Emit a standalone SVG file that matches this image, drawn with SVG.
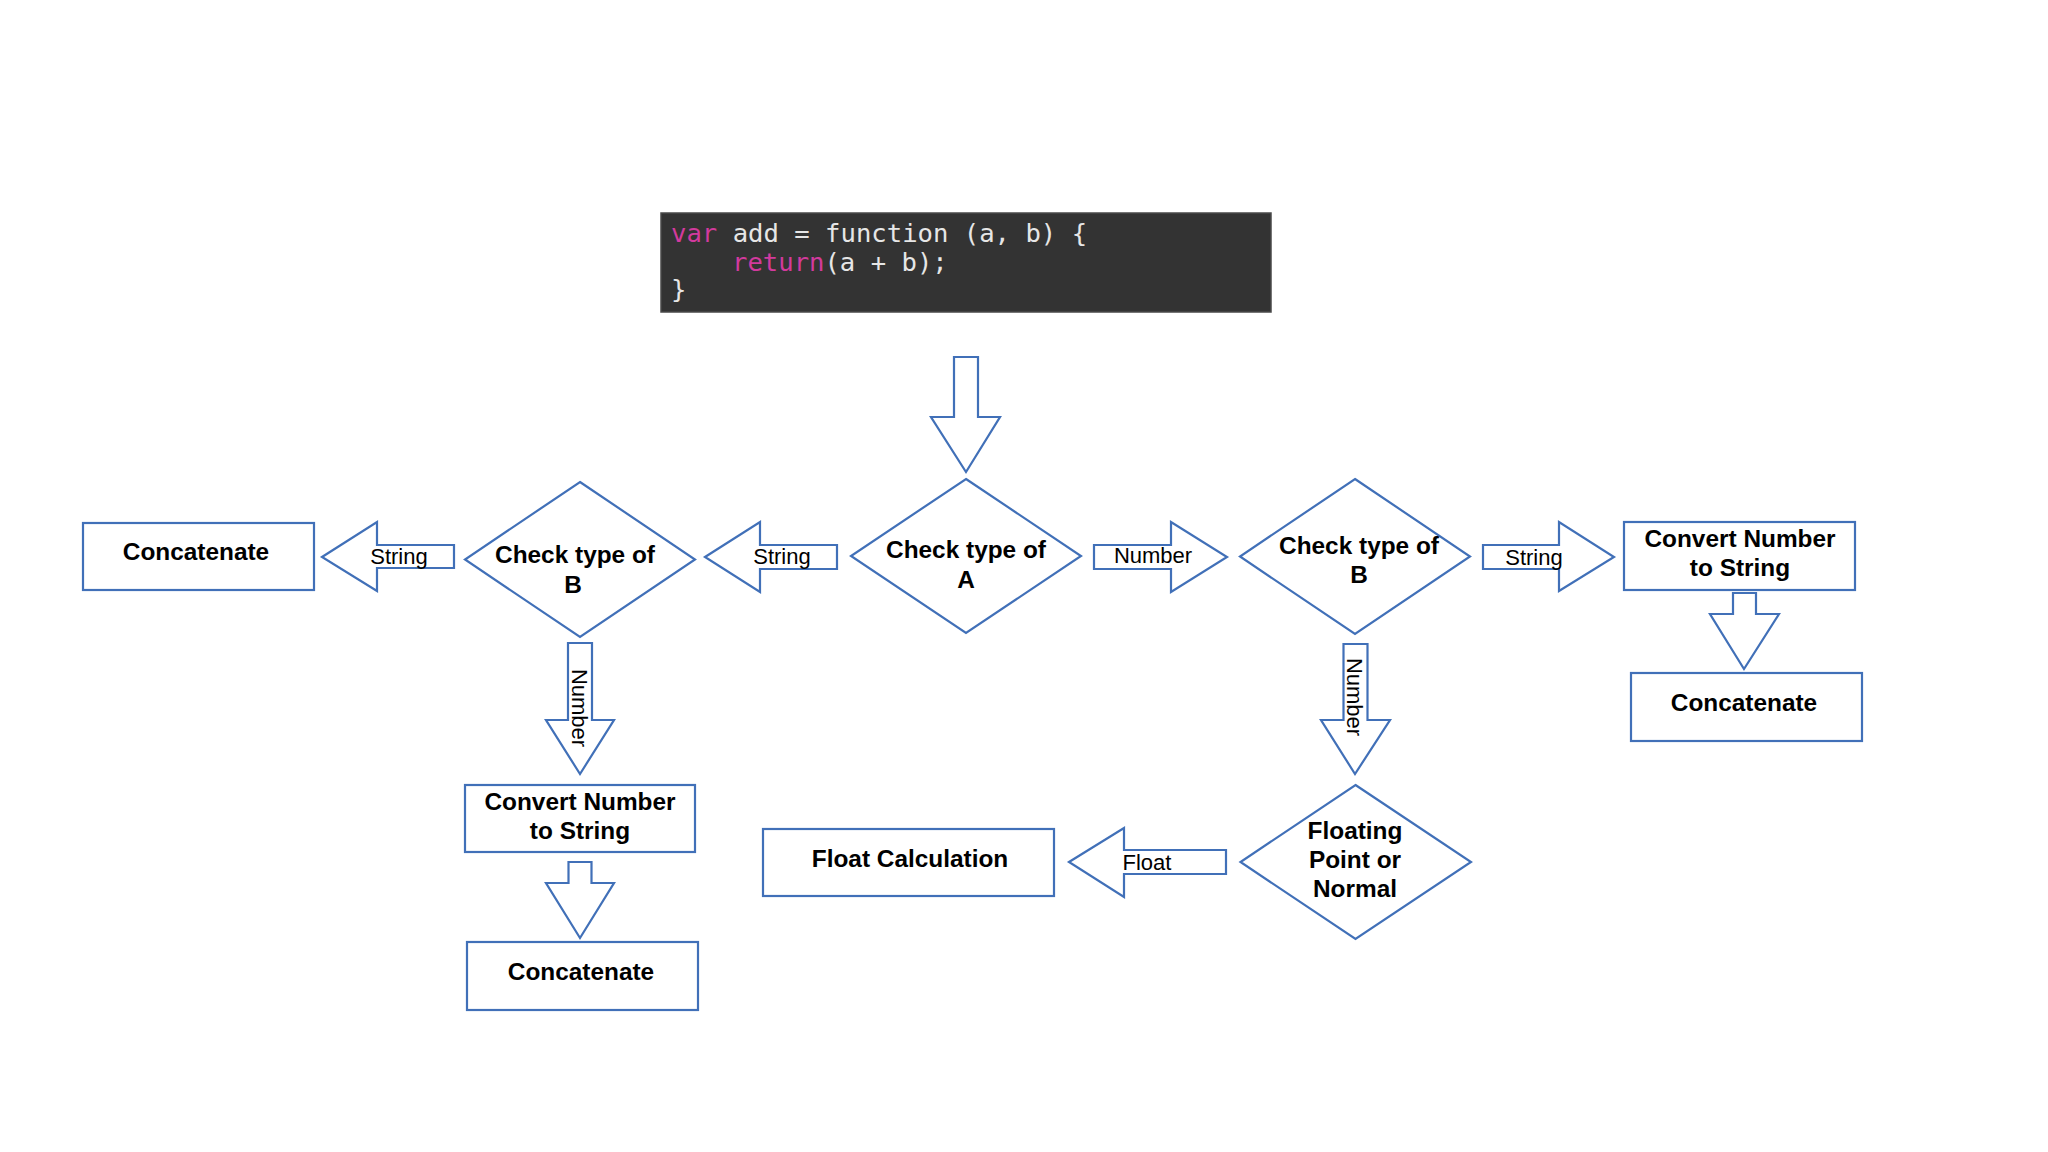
<svg xmlns="http://www.w3.org/2000/svg" width="2048" height="1152" viewBox="0 0 2048 1152">
<style>
.shape{fill:#ffffff;stroke:#4170b8;stroke-width:2.2;stroke-linejoin:miter}
.nt{font-family:"Liberation Sans",Arial,sans-serif;font-weight:bold;font-size:24.4px;fill:#000;text-anchor:middle}
.lb{font-family:"Liberation Sans",Arial,sans-serif;font-size:22px;fill:#000;text-anchor:middle}
.code{font-family:"DejaVu Sans Mono",monospace;font-size:25.6px;fill:#e6e6e6}
.kw{fill:#d23a9d}
</style>
<rect width="2048" height="1152" fill="#ffffff"/>
<g id="code">
<rect x="661" y="213" width="610" height="99" fill="#333333" stroke="#4a4a4a" stroke-width="1.5"/>
<text class="code" x="671" y="242"><tspan class="kw">var</tspan> add = function (a, b) {</text>
<text class="code" x="732" y="271"><tspan class="kw">return</tspan>(a + b);</text>
<text class="code" x="671" y="298">}</text>
</g>
<g id="connectors">
<polygon class="shape" points="954,357 978,357 978,417 1000,417 966,472 931,417 954,417"/>
<g id="a-string"><polygon class="shape" points="705,557 760,522 760,545 837,545 837,569 760,569 760,592"/><text class="lb" x="782" y="564">String</text></g>
<g id="a-number"><polygon class="shape" points="1094,545 1171,545 1171,522 1227,557 1171,592 1171,569 1094,569"/><text class="lb" x="1153" y="563">Number</text></g>
<g id="b1-string"><polygon class="shape" points="322,557 377,522 377,545 454,545 454,568 377,568 377,591"/><text class="lb" x="399" y="564">String</text></g>
<g id="b1-number"><polygon class="shape" points="568,643 592,643 592,720 614,720 580,774 546,720 568,720"/><text class="lb" transform="translate(572,708) rotate(90)">Number</text></g>
<polygon class="shape" points="568.5,862 591.5,862 591.5,883 614,883 580,938 546,883 568.5,883"/>
<g id="float"><polygon class="shape" points="1069,862 1124,828 1124,850 1226,850 1226,874 1124,874 1124,897"/><text class="lb" x="1147" y="870">Float</text></g>
<g id="b2-string"><polygon class="shape" points="1483,545 1559,545 1559,522 1614,557 1559,591 1559,569 1483,569"/><text class="lb" x="1534" y="565">String</text></g>
<polygon class="shape" points="1733,593 1756,593 1756,614 1779,614 1744,669 1710,614 1733,614"/>
<g id="b2-number"><polygon class="shape" points="1343.5,644 1367.5,644 1367.5,720 1390,720 1355,774 1321,720 1343.5,720"/><text class="lb" transform="translate(1347,697) rotate(90)">Number</text></g>
</g>
<g id="checkA"><polygon class="shape" points="966,479 1081,556 966,633 851,556"/><text class="nt" x="966" y="558">Check type of</text><text class="nt" x="966" y="588">A</text></g>
<g id="checkB1"><polygon class="shape" points="580,482 695,559.5 580,637 465,559.5"/><text class="nt" x="575" y="563">Check type of</text><text class="nt" x="573" y="593">B</text></g>
<g id="checkB2"><polygon class="shape" points="1355,479 1470,556.5 1355,634 1240,556.5"/><text class="nt" x="1359" y="554">Check type of</text><text class="nt" x="1359" y="583">B</text></g>
<g id="floating"><polygon class="shape" points="1355.5,785 1471,862 1355.5,939 1240.5,862"/><text class="nt" x="1355" y="839">Floating</text><text class="nt" x="1355" y="868">Point or</text><text class="nt" x="1355" y="897">Normal</text></g>
<g id="concatL"><rect class="shape" x="83" y="523" width="231" height="67"/><text class="nt" x="196" y="560">Concatenate</text></g>
<g id="convertLL"><rect class="shape" x="465" y="785" width="230" height="67"/><text class="nt" x="580" y="810">Convert Number</text><text class="nt" x="580" y="839">to String</text></g>
<g id="concatLL"><rect class="shape" x="467" y="942" width="231" height="68"/><text class="nt" x="581" y="980">Concatenate</text></g>
<g id="floatCalc"><rect class="shape" x="763" y="829" width="291" height="67"/><text class="nt" x="910" y="867">Float Calculation</text></g>
<g id="convertR"><rect class="shape" x="1624" y="522" width="231" height="68"/><text class="nt" x="1740" y="547">Convert Number</text><text class="nt" x="1740" y="576">to String</text></g>
<g id="concatR"><rect class="shape" x="1631" y="673" width="231" height="68"/><text class="nt" x="1744" y="711">Concatenate</text></g>
</svg>
